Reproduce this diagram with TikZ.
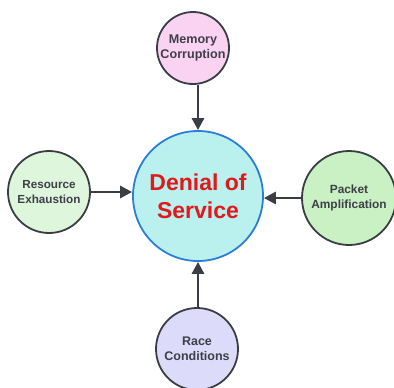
\documentclass[tikz,border=0pt]{standalone}
\usepackage{fontspec}
\setmainfont{Liberation Sans}
\usetikzlibrary{arrows.meta}
\definecolor{txtgray}{HTML}{3E3F48}
\definecolor{linegray}{HTML}{3A3D44}
\definecolor{pinkfill}{HTML}{FAD3F3}
\definecolor{mintfill}{HTML}{DDF6DC}
\definecolor{greenfill}{HTML}{C9F1C3}
\definecolor{lavfill}{HTML}{DCDCFA}
\definecolor{cyanfill}{HTML}{BAF1EE}
\definecolor{coreblue}{HTML}{2C7DD8}
\definecolor{corered}{HTML}{E0191C}
\tikzset{
  cause/.style={circle, draw=linegray, line width=1.8pt, inner sep=0pt,
    text=txtgray, align=center},
  label size/.style={font=\fontsize{#1}{15.5}\selectfont\bfseries},
  core/.style={circle, draw=coreblue, line width=1.8pt, fill=cyanfill, inner sep=0pt,
    text=corered, font=\fontsize{23}{28}\selectfont\bfseries, align=center},
  feed/.style={draw=linegray, line width=2.8pt, -{Triangle[length=12pt,width=12pt]}}
}
\begin{document}
\begin{tikzpicture}[x=1pt,y=-1pt]
\useasboundingbox (0,0) rectangle (394,388);
\node[core, minimum size=130pt] (dos) at (198,196) {Denial of\\Service};
\node[cause, label size=12.6, fill=pinkfill, minimum size=72pt] (mem) at (193,48) {Memory\\Corruption};
\node[cause, label size=11.7, fill=mintfill, minimum size=82pt] (res) at (49,192) {Resource\\Exhaustion};
\node[cause, label size=11.9, fill=greenfill, minimum size=94pt] (pkt) at (349,198) {Packet\\Amplification};
\node[cause, label size=12.5, fill=lavfill, minimum size=82pt] (race) at (197,349) {Race\\Conditions};
\draw[feed] (mem.south -| dos.north) -- (dos.north);
\draw[feed] (res.east) -- (res.east -| dos.west);
\draw[feed] (pkt.west) -- (pkt.west -| dos.east);
\draw[feed] (race.north -| dos.south) -- (dos.south);
\end{tikzpicture}
\end{document}
